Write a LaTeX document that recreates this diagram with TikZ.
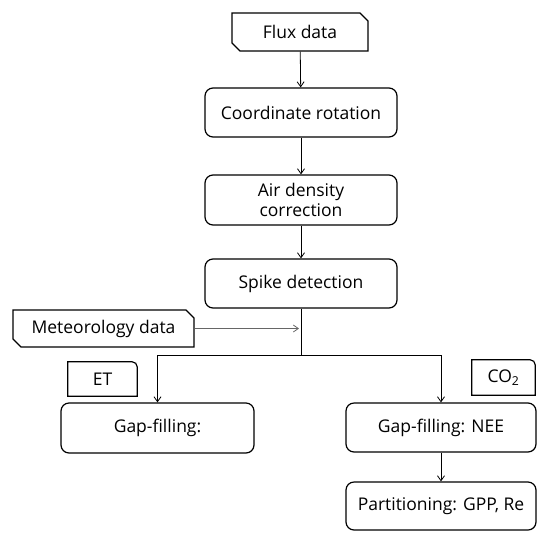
\documentclass[tikz,border=0pt]{standalone}
\usepackage{fontspec}
\setmainfont{Open Sans}
\usetikzlibrary{shapes.misc,arrows.meta}
\begin{document}
\begin{tikzpicture}[x=1pt,y=-1pt,
  box/.style={draw,line width=1.2pt,rounded corners=8pt,inner sep=0pt,font=\fontsize{17.5}{20}\selectfont,align=center},
  chbox/.style={draw,line width=1.2pt,chamfered rectangle,chamfered rectangle xsep=4pt,chamfered rectangle ysep=4pt,chamfered rectangle corners={north east,south west},inner sep=0pt,font=\fontsize{17.5}{20}\selectfont},
  tag/.style={inner sep=0pt,font=\fontsize{17.5}{20}\selectfont},
  arr/.style={-{Straight Barb[length=5pt,width=7pt]},line width=0.8pt},
  garr/.style={-{Straight Barb[length=5pt,width=7pt]},line width=0.8pt,draw=black!60},
  ln/.style={line width=0.8pt}]
\useasboundingbox (0,0) rectangle (537,536);
\node[chbox,minimum width=136pt,minimum height=38pt] (flux) at (300,32) {Flux data};
\node[box,minimum width=192pt,minimum height=49pt] (rot) at (301,112.5) {Coordinate rotation};
\node[box,minimum width=192pt,minimum height=50pt] (air) at (301,200) {Air density\\correction};
\node[box,minimum width=192pt,minimum height=49pt] (spike) at (301,283.5) {Spike detection};
\node[chbox,minimum width=181pt,minimum height=37pt] (met) at (103.5,328.5) {Meteorology data};
\node[box,minimum width=193pt,minimum height=50pt] (gapl) at (157.5,428) {Gap-filling:};
\node[box,minimum width=190pt,minimum height=49pt] (gapr) at (441,427.5) {Gap-filling: NEE};
\node[box,minimum width=190pt,minimum height=48pt] (part) at (441,506) {Partitioning: GPP, Re};
\node[tag,minimum width=69pt,minimum height=34pt] (et) at (102.5,379) {ET};
\node[tag,minimum width=63pt,minimum height=35pt] (co) at (503.5,377.5) {CO\textsubscript{2}};
\foreach \n in {et,co}{
  \draw[line width=1.2pt] (\n.south west) -- (\n.north west) -- ([xshift=-5pt]\n.north east)
    arc[start angle=90,end angle=0,radius=5pt] -- (\n.south east) -- cycle;
}
\coordinate (j) at (spike.south |- 0,355);
\coordinate (mj) at (spike.south |- met.east);
\coordinate (jl) at (gapl.north |- j);
\coordinate (jr) at (gapr.north |- j);
\draw[arr] (flux) -- (rot);
\draw[arr] (rot) -- (air);
\draw[arr] (air) -- (spike);
\draw[ln] (spike) -- (j);
\draw[garr] (met) -- ([xshift=-2pt]mj);
\draw[ln] (jl) -- (jr);
\draw[arr] (jl) -- (gapl);
\draw[arr] (jr) -- (gapr);
\draw[arr] (gapr) -- (part);
\end{tikzpicture}
\end{document}
